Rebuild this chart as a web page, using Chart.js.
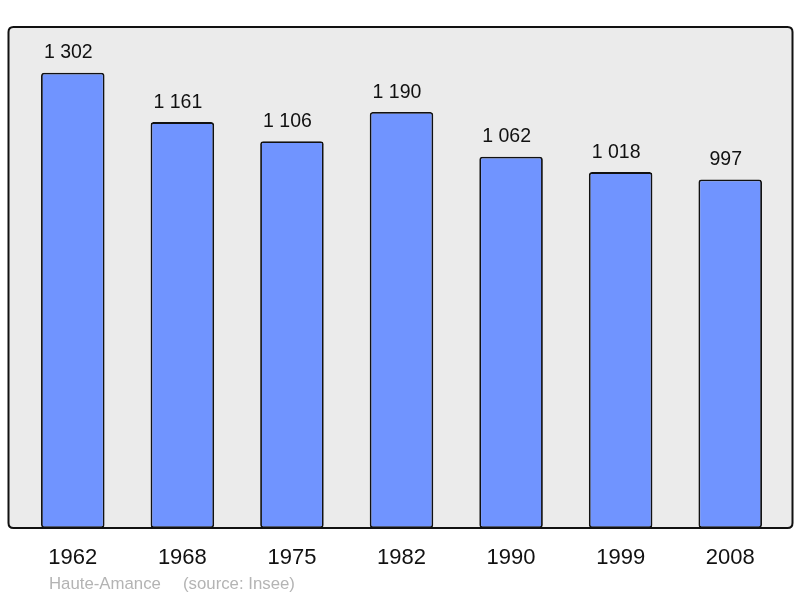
<!DOCTYPE html>
<html>
<head>
<meta charset="utf-8">
<script src="https://cdn.jsdelivr.net/npm/chart.js@4/dist/chart.umd.min.js"></script>
<style>
  html, body { margin: 0; padding: 0; background: #fff; }
  #wrap { width: 800px; height: 598px; position: relative; }
</style>
</head>
<body>
<div id="wrap"><canvas id="popChart"></canvas></div>
<script>
// population data
var years = ["1962", "1968", "1975", "1982", "1990", "1999", "2008"];
var population = [1302, 1161, 1106, 1190, 1062, 1018, 997];
var valueLabels = ["1 302", "1 161", "1 106", "1 190", "1 062", "1 018", "997"];
var commune = "Haute-Amance";
var source = "(source: Insee)";

var FONT = "'Liberation Sans', Arial, sans-serif";

function roundRect(ctx, x, y, w, h, r) {
  ctx.beginPath();
  ctx.moveTo(x + r, y);
  ctx.lineTo(x + w - r, y);
  ctx.quadraticCurveTo(x + w, y, x + w, y + r);
  ctx.lineTo(x + w, y + h - r);
  ctx.quadraticCurveTo(x + w, y + h, x + w - r, y + h);
  ctx.lineTo(x + r, y + h);
  ctx.quadraticCurveTo(x, y + h, x, y + h - r);
  ctx.lineTo(x, y + r);
  ctx.quadraticCurveTo(x, y, x + r, y);
  ctx.closePath();
}

// grey frame behind the bars
var framePlugin = {
  id: 'frame',
  beforeDatasetsDraw: function(chart) {
    var ctx = chart.ctx, a = chart.chartArea;
    ctx.save();
    roundRect(ctx, a.left - 9.5, a.top, (a.right + 7.5) - (a.left - 9.5), a.bottom - a.top, 5);
    ctx.fillStyle = '#ebebeb';
    ctx.fill();
    ctx.restore();
  },
  afterDatasetsDraw: function(chart) {
    var ctx = chart.ctx, a = chart.chartArea;
    ctx.save();
    roundRect(ctx, a.left - 9.5, a.top, (a.right + 7.5) - (a.left - 9.5), a.bottom - a.top, 5);
    ctx.lineWidth = 2;
    ctx.strokeStyle = '#111';
    ctx.stroke();

    // values above bars
    var meta = chart.getDatasetMeta(0);
    ctx.fillStyle = '#111';
    ctx.font = '19.5px ' + FONT;
    ctx.textAlign = 'center';
    ctx.textBaseline = 'bottom';
    meta.data.forEach(function(bar, i) {
      ctx.fillText(valueLabels[i], bar.x - 4.5, bar.y - 10);
    });

    // footer
    ctx.fillStyle = '#b4b4b4';
    ctx.font = '16.8px ' + FONT;
    ctx.textAlign = 'left';
    ctx.textBaseline = 'middle';
    ctx.fillText(commune, 49, 584);
    ctx.fillText(source, 183, 584);
    ctx.restore();
  }
};

var ctxB = document.getElementById("popChart").getContext('2d');
var popChart = new Chart(ctxB, {
  type: 'bar',
  data: {
    labels: years,
    datasets: [{
      data: population,
      backgroundColor: "#7094ff",
      borderColor: "#111",
      borderWidth: 1.8,
      borderRadius: 3,
      borderSkipped: false,
      barPercentage: 0.58,
      categoryPercentage: 1
    }]
  },
  options: {
    responsive: true,
    maintainAspectRatio: false,
    animation: false,
    layout: { padding: { left: 18, right: 15, top: 27, bottom: 0 } },
    plugins: { legend: { display: false }, tooltip: { enabled: false } },
    scales: {
      x: {
        grid: { display: false, drawTicks: false },
        border: { display: false },
        ticks: { color: '#111', font: { family: FONT, size: 22 }, padding: 17 },
        afterFit: function(scale) { scale.height = 70; }
      },
      y: {
        display: false,
        min: 0,
        max: 1433
      }
    }
  },
  plugins: [framePlugin]
});
</script>
</body>
</html>
